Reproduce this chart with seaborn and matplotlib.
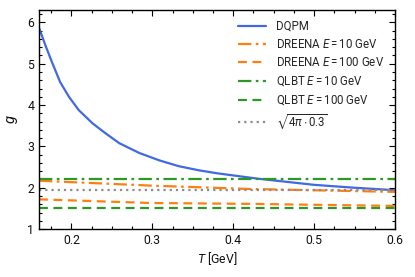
import matplotlib
matplotlib.use("Agg")
import matplotlib.pyplot as plt
import seaborn as sns
import pandas as pd
from matplotlib.ticker import MultipleLocator

# Data
T_dqpm = [0.160, 0.168, 0.176, 0.186, 0.197, 0.209, 0.226, 0.242, 0.259, 0.284,
          0.309, 0.333, 0.358, 0.380, 0.430, 0.500, 0.550, 0.600]
g_dqpm = [5.87, 5.44, 5.04, 4.56, 4.20, 3.88, 3.56, 3.32, 3.08, 2.84,
          2.66, 2.52, 2.42, 2.35, 2.22, 2.07, 2.00, 1.94]

T_flat = [0.16, 0.30, 0.42, 0.60]
g_dreena10 = [2.17, 2.05, 1.97, 1.90]
g_dreena100 = [1.72, 1.63, 1.61, 1.56]
g_qlbt10 = [2.2, 2.2, 2.2, 2.2]
g_qlbt100 = [1.5, 1.5, 1.5, 1.5]
g_const = [1.9416, 1.9416, 1.9416, 1.9416]

labels = ["DQPM", "DREENA $E = 10$ GeV", "DREENA $E = 100$ GeV",
          "QLBT $E = 10$ GeV", "QLBT $E = 100$ GeV", r"$\sqrt{4\pi \cdot 0.3}$"]

sns.set_style("ticks")
plt.rcParams['font.family'] = ['Roboto', 'DejaVu Sans']
plt.rcParams['mathtext.fontset'] = 'custom'
plt.rcParams['mathtext.rm'] = 'Roboto'
plt.rcParams['mathtext.it'] = 'Roboto:italic'
plt.rcParams['mathtext.bf'] = 'Roboto:bold'
plt.rcParams['mathtext.fallback'] = 'stixsans'

fig = plt.figure(figsize=(4.15, 2.77), dpi=100)
ax = fig.add_axes([0.094, 0.173, 0.858, 0.791])

blue = "#4169e1"
orange = "#ff7f0e"
green = "#2a9a22"
grey = "#8c8c8c"

series = [
    (T_dqpm, g_dqpm, labels[0], blue, "-"),
    (T_flat, g_dreena10, labels[1], orange, (0, (6, 2, 1.2, 2))),
    (T_flat, g_dreena100, labels[2], orange, (0, (4, 2.5))),
    (T_flat, g_qlbt10, labels[3], green, (0, (6, 2, 1.2, 2))),
    (T_flat, g_qlbt100, labels[4], green, (0, (4, 2.5))),
    (T_flat, g_const, labels[5], grey, (0, (1, 1.8))),
]
for x, y, lab, c, ls in series:
    df = pd.DataFrame({"T": x, "g": y})
    sns.lineplot(data=df, x="T", y="g", ax=ax, color=c, label=lab, linewidth=1.6,
                 linestyle=ls)

ax.set_xlim(0.16, 0.6)
ax.set_ylim(1, 6.3)
ax.xaxis.set_major_locator(MultipleLocator(0.1))
ax.xaxis.set_minor_locator(MultipleLocator(0.025))
ax.yaxis.set_major_locator(MultipleLocator(1))
ax.yaxis.set_minor_locator(MultipleLocator(0.2))
ax.tick_params(which="both", direction="in", top=True, right=True, labelsize=8.8,
               width=0.8, colors="black", labelcolor="#111111")
ax.tick_params(which="major", length=4)
ax.tick_params(which="minor", length=2)
for s in ax.spines.values():
    s.set_linewidth(1.0)
    s.set_color("black")

ax.set_xlabel("$T$ [GeV]", fontsize=8.8, labelpad=2, color="#111111")
ax.set_ylabel("$g$", fontsize=10.5, labelpad=5, color="#111111")

ax.legend(loc="upper left", frameon=False, fontsize=8.3, handlelength=2.4,
          handletextpad=0.9, labelspacing=0.45, borderpad=0, borderaxespad=0,
          bbox_to_anchor=(0.559, 0.955))

fig.savefig("out.png", dpi=100)
